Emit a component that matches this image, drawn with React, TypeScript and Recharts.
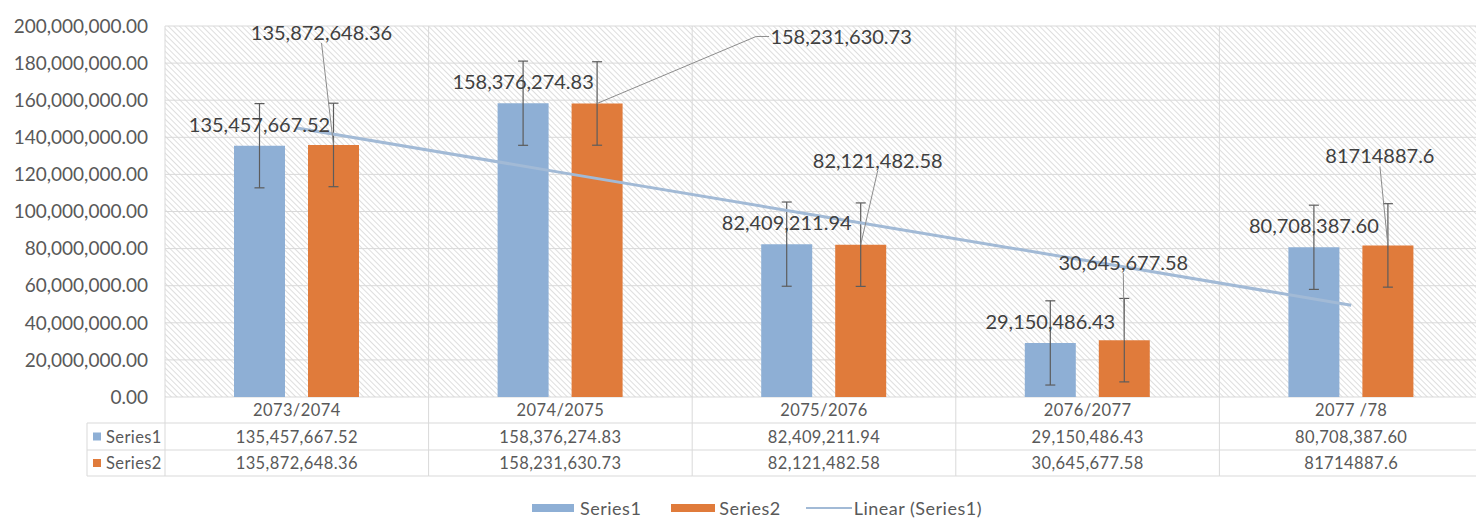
import React from 'react';
import { ComposedChart, Bar, Line, XAxis, YAxis, CartesianGrid, ErrorBar, LabelList, Legend } from 'recharts';

// fiscal years and the two series plotted per year
const categories = ['2073/2074', '2074/2075', '2075/2076', '2076/2077', '2077 /78'];
const series1 = [135457667.52, 158376274.83, 82409211.94, 29150486.43, 80708387.6];
const series2 = [135872648.36, 158231630.73, 82121482.58, 30645677.58, 81714887.6];
// the last Series2 value was typed in without number formatting
const series2Plain = [false, false, false, false, true];
// standard error bars
const series1Err = [22700000, 22700000, 22700000, 22700000, 22700000];
const series2Err = [22500000, 22500000, 22500000, 22500000, 22500000];
// linear trendline of Series1
const trend1 = [145000000, 121100000, 97200000, 73400000, 49500000];
const yTicks = [0, 20000000, 40000000, 60000000, 80000000, 100000000, 120000000, 140000000, 160000000, 180000000, 200000000];

const chartData = categories.map((cat, i) => ({
  cat,
  s1: series1[i],
  s2: series2[i],
  e1: series1Err[i],
  e2: series2Err[i],
  trend: trend1[i],
}));

const W = 1490;
const H = 531;
const TOP = 26;
const PLOT_LEFT = 165;
const RIGHT = 7;
const AXIS_H = 79;
const LEGEND_H = 55;
const BAND = (W - PLOT_LEFT - RIGHT) / categories.length;
const ROW_LINES = [26, 53, 79];
const FONT = "Lato, 'DejaVu Sans', sans-serif";
const BLUE = '#8eafd5';
const ORANGE = '#e07b3b';
const TREND = '#a2bad6';
const GRID = '#d9d9d9';
const TEXT = '#595959';
const LABEL = '#404040';

// Series2 labels were dragged away from the bars; shift of label centre from bar top
const s2Shift = [[-12, -113], [244, -67], [17, -85], [-1, -78], [-8, -90]];

const fmt = (v: number) =>
  v.toLocaleString('en-US', { minimumFractionDigits: 2, maximumFractionDigits: 2 });
const fmt2 = (v: number, i: number) => (series2Plain[i] ? String(v) : fmt(v));

const geom = (props: any) => {
  const vb = props.viewBox || {};
  const x = props.x ?? vb.x;
  const y = props.y ?? vb.y;
  const w = props.width ?? vb.width;
  return { cx: Number(x) + Number(w) / 2, top: Number(y) };
};

const Series1Label = (props: any) => {
  const { cx, top } = geom(props);
  return (
    <text x={cx} y={top - 22} textAnchor="middle" dominantBaseline="central"
      fontFamily={FONT} fontSize={20} fill={LABEL}>
      {fmt(Number(props.value))}
    </text>
  );
};

const Series2Label = (props: any) => {
  const { cx, top } = geom(props);
  const i = props.index;
  const [dx, dy] = s2Shift[i];
  const lx = cx + dx;
  const ly = top + dy;
  const leader = i === 1
    ? `M${lx - 72},${ly} L${lx - 85},${ly} L${cx},${top}`
    : `M${lx},${ly + 11} L${cx},${top}`;
  return (
    <g>
      <path d={leader} stroke="#8c8c8c" strokeWidth={1} fill="none" />
      <text x={lx} y={ly} textAnchor="middle" dominantBaseline="central"
        fontFamily={FONT} fontSize={20} fill={LABEL}>
        {fmt2(Number(props.value), i)}
      </text>
    </g>
  );
};

// x-axis ticks double as the data table under the plot
const TableTick = (props: any) => {
  const { x, y, index } = props;
  const left = x - BAND / 2;
  const right = x + BAND / 2;
  const rowMid = [13, 39.5, 66];
  return (
    <g fontFamily={FONT} fontSize={16.5} fill={TEXT} letterSpacing={0.4}>
      {ROW_LINES.map((d) => (
        <line key={d} x1={left} x2={right} y1={y + d} y2={y + d} stroke={GRID} />
      ))}
      <line x1={right} x2={right} y1={y} y2={y + ROW_LINES[2]} stroke={GRID} />
      {index === 0 && (
        <g>
          <line x1={left} x2={left} y1={y} y2={y + ROW_LINES[2]} stroke={GRID} />
          <line x1={87} x2={left} y1={y + ROW_LINES[0]} y2={y + ROW_LINES[0]} stroke={GRID} />
          <line x1={87} x2={left} y1={y + ROW_LINES[1]} y2={y + ROW_LINES[1]} stroke={GRID} />
          <line x1={87} x2={left} y1={y + ROW_LINES[2]} y2={y + ROW_LINES[2]} stroke={GRID} />
          <line x1={87} x2={87} y1={y + ROW_LINES[0]} y2={y + ROW_LINES[2]} stroke={GRID} />
          <rect x={93} y={y + rowMid[1] - 4} width={8} height={8} fill={BLUE} />
          <text x={106} y={y + rowMid[1]} dominantBaseline="central">Series1</text>
          <rect x={93} y={y + rowMid[2] - 4} width={8} height={8} fill={ORANGE} />
          <text x={106} y={y + rowMid[2]} dominantBaseline="central">Series2</text>
        </g>
      )}
      <text x={x} y={y + rowMid[0]} textAnchor="middle" dominantBaseline="central">{categories[index]}</text>
      <text x={x} y={y + rowMid[1]} textAnchor="middle" dominantBaseline="central">{fmt(series1[index])}</text>
      <text x={x} y={y + rowMid[2]} textAnchor="middle" dominantBaseline="central">{fmt2(series2[index], index)}</text>
    </g>
  );
};

const LegendRow = () => (
  <div style={{ height: LEGEND_H, boxSizing: 'border-box', paddingTop: 22, paddingLeft: 532 }}>
    <div style={{ height: 20, display: 'flex', alignItems: 'center', fontFamily: FONT, fontSize: 18,
      letterSpacing: 0.5, color: TEXT, lineHeight: '20px' }}>
      <span style={{ display: 'inline-block', width: 42, height: 8, background: BLUE, marginRight: 6 }} />
      <span style={{ marginRight: 30 }}>Series1</span>
      <span style={{ display: 'inline-block', width: 44, height: 8, background: ORANGE, marginRight: 4 }} />
      <span style={{ marginRight: 25 }}>Series2</span>
      <span style={{ display: 'inline-block', width: 46, height: 2, background: TREND, marginRight: 2 }} />
      <span>Linear (Series1)</span>
    </div>
  </div>
);

export default function App() {
  const vLines = categories.map((_, i) => PLOT_LEFT + i * BAND).concat([W - RIGHT]);
  return (
    <div style={{ position: 'absolute', left: 0, top: 0, width: 1476, height: H, overflow: 'hidden', background: '#fff' }}>
      <ComposedChart width={W} height={H} data={chartData}
        margin={{ top: TOP, right: RIGHT, left: 0, bottom: 0 }}
        barSize={51} barGap={23}>
        <defs>
          <pattern id="hatch" width="4" height="4" patternUnits="userSpaceOnUse" patternTransform="rotate(-45)">
            <rect width="4" height="4" fill="#ffffff" />
            <line x1="0" y1="0" x2="0" y2="4" stroke="#cdcdcd" strokeWidth="1.3" />
          </pattern>
        </defs>
        <CartesianGrid stroke={GRID} fill="url(#hatch)" fillOpacity={1} verticalPoints={vLines} />
        <XAxis dataKey="cat" interval={0} height={AXIS_H} tickLine={false} axisLine={false}
          tickSize={0} tickMargin={0} tick={<TableTick />} />
        <YAxis width={PLOT_LEFT} domain={[0, 200000000]} ticks={yTicks} tickLine={false} axisLine={false}
          tickSize={0} tickMargin={17} tickFormatter={fmt}
          tick={{ fontFamily: FONT, fontSize: 19, fill: TEXT }} />
        <Bar dataKey="s1" name="Series1" fill={BLUE} isAnimationActive={false}>
          <ErrorBar dataKey="e1" width={5} stroke="#5c5c5c" strokeWidth={1.2} direction="y" />
          <LabelList dataKey="s1" content={<Series1Label />} />
        </Bar>
        <Bar dataKey="s2" name="Series2" fill={ORANGE} isAnimationActive={false}>
          <ErrorBar dataKey="e2" width={5} stroke="#5c5c5c" strokeWidth={1.2} direction="y" />
          <LabelList dataKey="s2" content={<Series2Label />} />
        </Bar>
        <Line dataKey="trend" name="Linear (Series1)" type="linear" stroke={TREND} strokeWidth={3}
          dot={false} activeDot={false} isAnimationActive={false} />
        <Legend verticalAlign="bottom" align="left" content={<LegendRow />}
          wrapperStyle={{ left: 0, width: W, height: LEGEND_H }} />
      </ComposedChart>
    </div>
  );
}
